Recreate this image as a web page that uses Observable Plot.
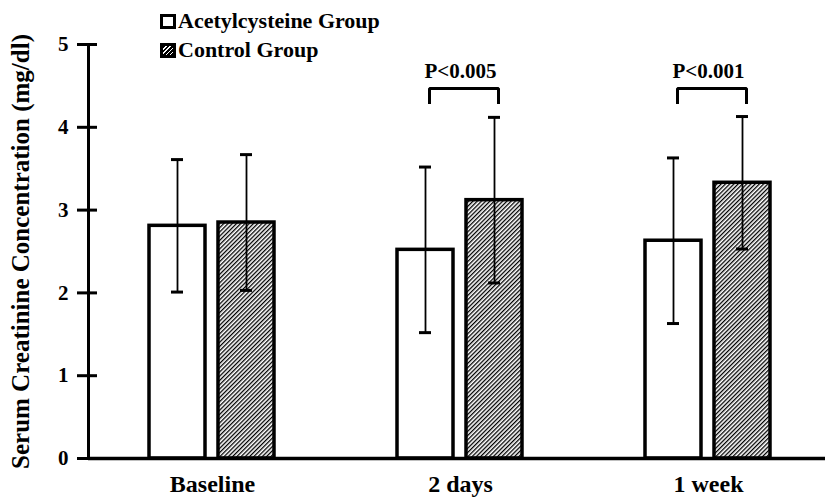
<!DOCTYPE html>
<html><head><meta charset="utf-8">
<script src="https://cdn.jsdelivr.net/npm/d3@7"></script>
<script src="https://cdn.jsdelivr.net/npm/@observablehq/plot@0.6"></script>
<style>
body{margin:0;background:#fff;}
#wrap{position:relative;width:825px;height:500px;overflow:hidden;}
#legend{position:absolute;left:160px;top:6px;font-family:"Liberation Serif";font-weight:bold;font-size:22px;color:#000;}
.row{height:29px;line-height:29px;white-space:nowrap;}
.sw{display:inline-block;width:16px;height:15px;box-sizing:border-box;border:3px solid #000;vertical-align:-1px;margin-right:2px;background:#fff;}
.sw.h{background:repeating-linear-gradient(135deg,#000 0 1.8px,#fff 1.8px 3px);}
</style></head><body>
<div id="wrap"><div id="chart"></div><div id="legend"></div></div>
<script>
const times = ["Baseline", "2 days", "1 week"];
const groups = ["Acetylcysteine Group", "Control Group"];
const acetylMean = [2.81, 2.52, 2.63];
const acetylSD = [0.80, 1.00, 1.00];
const controlMean = [2.85, 3.12, 3.33];
const controlSD = [0.82, 1.00, 0.80];
const sigTimes = ["2 days", "1 week"];
const sigLabels = ["P<0.005", "P<0.001"];
const yTicks = [0, 1, 2, 3, 4, 5];
const yLabel = "Serum Creatinine Concentration (mg/dl)";

const rows = [];
times.forEach((t, i) => {
  rows.push({time: t, group: groups[0], mean: acetylMean[i], sd: acetylSD[i]});
  rows.push({time: t, group: groups[1], mean: controlMean[i], sd: controlSD[i]});
});
const bracketLow = 4.28, bracketHigh = 4.47;
const bracketPts = sigTimes.flatMap(t => [
  {time: t, group: groups[0], y: bracketLow},
  {time: t, group: groups[0], y: bracketHigh},
  {time: t, group: groups[1], y: bracketHigh},
  {time: t, group: groups[1], y: bracketLow}
]);
const sigRows = sigTimes.map((t, i) => ({time: t, label: sigLabels[i]}));

const plot = Plot.plot({
  width: 825, height: 500,
  marginLeft: 87, marginRight: -8, marginTop: 44, marginBottom: 42,
  style: {fontFamily: "Liberation Serif", fontWeight: "bold", fontSize: "25px", color: "black", background: "white"},
  fx: {domain: times, padding: 0},
  x: {domain: groups, paddingInner: 0.187, paddingOuter: 0.88, axis: null},
  y: {domain: [0, 5]},
  color: {domain: groups, range: ["white", "url(#hatch)"]},
  marks: [
    Plot.barY(rows, {fx: "time", x: "group", y: "mean", fill: "group", stroke: "black", strokeWidth: 3.5}),
    Plot.ruleX(rows, {fx: "time", x: "group", y1: d => d.mean - d.sd, y2: d => d.mean + d.sd, stroke: "black", strokeWidth: 1.8}),
    Plot.tickY(rows, {fx: "time", x: "group", y: d => d.mean + d.sd, insetLeft: 22, insetRight: 22, strokeWidth: 3}),
    Plot.tickY(rows, {fx: "time", x: "group", y: d => d.mean - d.sd, insetLeft: 22, insetRight: 22, strokeWidth: 3}),
    Plot.line(bracketPts, {fx: "time", x: "group", y: "y", z: "time", strokeWidth: 3, strokeLinejoin: "miter", strokeLinecap: "butt", dx: 4}),
    Plot.text(sigRows, {fx: "time", text: "label", y: bracketHigh, dy: -10, lineAnchor: "bottom", fontSize: 21}),
    Plot.ruleY([0], {strokeWidth: 3.5}),
    Plot.frame({anchor: "left", facet: "super", strokeWidth: 3}),
    Plot.axisY({ticks: yTicks, tickFormat: d3.format("d"), tickSize: 20, insetLeft: 9, tickPadding: 9, strokeWidth: 3, fontSize: 21, label: null}),
    Plot.axisY({ticks: [], tickSize: 0, fontSize: 25, label: yLabel, labelAnchor: "center", labelOffset: 77, labelArrow: "none"}),
    Plot.axisFx({anchor: "bottom", tickSize: 0, tickPadding: 16, fontSize: 24, label: null})
  ]
});

const ns = "http://www.w3.org/2000/svg";
const defs = document.createElementNS(ns, "defs");
const pat = document.createElementNS(ns, "pattern");
pat.setAttribute("id", "hatch");
pat.setAttribute("patternUnits", "userSpaceOnUse");
pat.setAttribute("width", "3");
pat.setAttribute("height", "3");
pat.setAttribute("patternTransform", "rotate(45)");
const bg = document.createElementNS(ns, "rect");
bg.setAttribute("width", "3"); bg.setAttribute("height", "3"); bg.setAttribute("fill", "white");
const ln = document.createElementNS(ns, "rect");
ln.setAttribute("width", "1.3"); ln.setAttribute("height", "3"); ln.setAttribute("fill", "black");
pat.appendChild(bg); pat.appendChild(ln); defs.appendChild(pat);
plot.insertBefore(defs, plot.firstChild);
document.getElementById("chart").appendChild(plot);

const legend = document.getElementById("legend");
groups.forEach((g, i) => {
  const row = document.createElement("div");
  row.className = "row";
  const sw = document.createElement("span");
  sw.className = i === 0 ? "sw" : "sw h";
  row.appendChild(sw);
  row.appendChild(document.createTextNode(g));
  legend.appendChild(row);
});
</script>
</body></html>
